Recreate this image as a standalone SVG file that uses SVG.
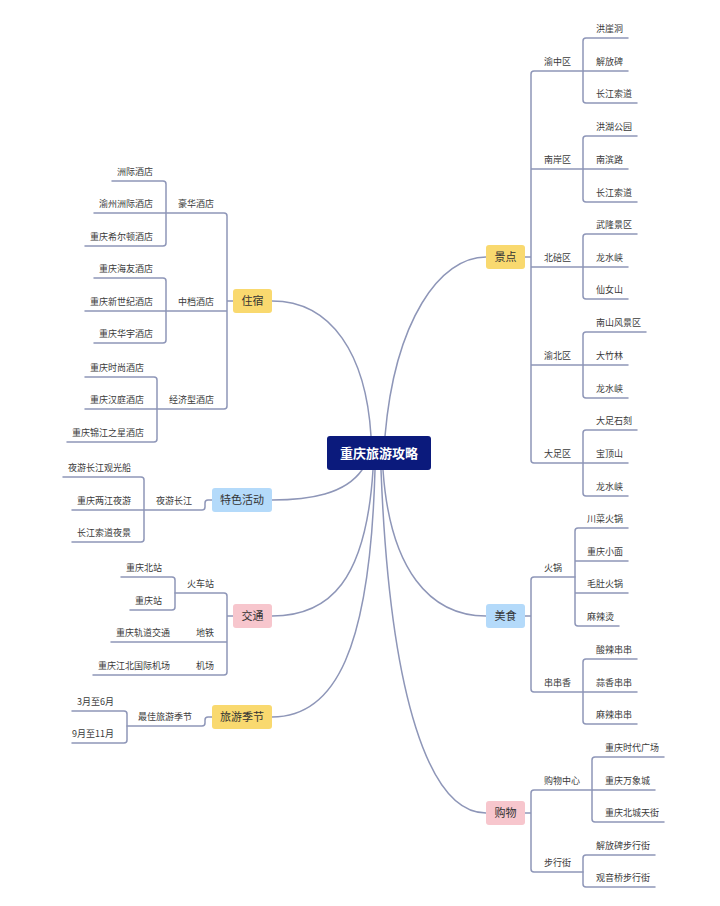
<svg xmlns="http://www.w3.org/2000/svg" width="720" height="906" viewBox="0 0 720 906">
<style>
.c{fill:none;stroke:#8e96b8;stroke-width:1.5;stroke-linecap:round}
text{font-family:"Noto Sans CJK SC","Noto Sans",sans-serif;fill:#3a3a3a}
.t{font-size:9px}
.l{font-size:9px;text-anchor:end}
.n{font-size:11px;text-anchor:middle;fill:#333}
.r{font-size:13px;font-weight:bold;text-anchor:middle;fill:#fff}
.y{fill:#f9d96f}
.b{fill:#b4dafa}
.p{fill:#f7c6cd}
</style>
<rect width="720" height="906" fill="#fff"/>
<g id="connectors">
<path class="c" d="M385,436 C395,320 440,257 486,257"/>
<path class="c" d="M371,436 C366,355 332,301 272,301"/>
<path class="c" d="M362,470 C345,494 310,500 272,500"/>
<path class="c" d="M373,470 C366,580 330,616 272,616"/>
<path class="c" d="M375,470 C370,650 335,717 272,717"/>
<path class="c" d="M383,470 C390,570 430,616 486,616"/>
<path class="c" d="M381,470 C390,700 430,813 486,813"/>
<!-- 景点 -->
<path class="c" d="M525,257 H531 M583,71 H534 Q531,71 531,74 V460 Q531,463 534,463 H583 M531,169 H583 M531,267 H583 M531,365 H583"/>
<path class="c" d="M628,38 H586 Q583,38 583,41 V100 Q583,103 586,103 H637 M583,71 H628"/>
<path class="c" d="M637,136 H586 Q583,136 583,139 V199 Q583,202 586,202 H637 M583,169 H628"/>
<path class="c" d="M637,234 H586 Q583,234 583,237 V296 Q583,299 586,299 H628 M583,267 H628"/>
<path class="c" d="M646,332 H586 Q583,332 583,335 V395 Q583,398 586,398 H628 M583,365 H628"/>
<path class="c" d="M637,430 H586 Q583,430 583,433 V493 Q583,496 586,496 H628 M583,463 H628"/>
<!-- 美食 -->
<path class="c" d="M525,616 H531 M575,577 H534 Q531,577 531,580 V689 Q531,692 534,692 H583"/>
<path class="c" d="M628,528 H578 Q575,528 575,531 V623 Q575,626 578,626 H619 M575,561 H628 M575,593 H628"/>
<path class="c" d="M637,659 H586 Q583,659 583,662 V721 Q583,724 586,724 H637 M583,692 H637"/>
<!-- 购物 -->
<path class="c" d="M525,813 H531 M592,790 H534 Q531,790 531,793 V869 Q531,872 534,872 H583"/>
<path class="c" d="M664,757 H595 Q592,757 592,760 V819 Q592,822 595,822 H664 M592,790 H655"/>
<path class="c" d="M655,855 H586 Q583,855 583,858 V884 Q583,887 586,887 H655"/>
<!-- 住宿 -->
<path class="c" d="M233,301 H227 M166,213 H224 Q227,213 227,216 V406 Q227,409 224,409 H157 M227,311 H166"/>
<path class="c" d="M112,181 H163 Q166,181 166,184 V243 Q166,246 163,246 H85 M166,213 H94"/>
<path class="c" d="M94,278 H163 Q166,278 166,281 V340 Q166,343 163,343 H94 M166,311 H85"/>
<path class="c" d="M85,377 H154 Q157,377 157,380 V439 Q157,442 154,442 H67 M157,409 H85"/>
<!-- 特色活动 -->
<path class="c" d="M212,500 H208 Q205,500 205,503 V507 Q205,510 202,510 H144"/>
<path class="c" d="M63,477 H141 Q144,477 144,480 V539 Q144,542 141,542 H72 M144,510 H72"/>
<!-- 交通 -->
<path class="c" d="M233,616 H227 M175,593 H224 Q227,593 227,596 V672 Q227,675 224,675 H93 M227,642 H111"/>
<path class="c" d="M121,577 H172 Q175,577 175,580 V607 Q175,610 172,610 H130"/>
<!-- 旅游季节 -->
<path class="c" d="M212,717 H208 Q205,717 205,720 V723 Q205,726 202,726 H127"/>
<path class="c" d="M72,711 H124 Q127,711 127,714 V740 Q127,743 124,743 H72"/>
</g>
<g id="root"><rect x="327" y="436" width="104" height="34" rx="3" fill="#0b1a7c"/><text class="r" x="379" y="458">重庆旅游攻略</text></g>
<g id="n-jingdian"><rect class="y" x="486" y="245" width="39" height="24" rx="3"/><text class="n" x="505.5" y="261">景点</text></g>
<g id="n-meishi"><rect class="b" x="486" y="604" width="39" height="24" rx="3"/><text class="n" x="505.5" y="620">美食</text></g>
<g id="n-gouwu"><rect class="p" x="486" y="801" width="39" height="24" rx="3"/><text class="n" x="505.5" y="817">购物</text></g>
<g id="n-zhusu"><rect class="y" x="233" y="289" width="39" height="24" rx="3"/><text class="n" x="252.5" y="305">住宿</text></g>
<g id="n-tese"><rect class="b" x="212" y="488" width="60" height="24" rx="3"/><text class="n" x="242" y="504">特色活动</text></g>
<g id="n-jiaotong"><rect class="p" x="233" y="604" width="39" height="24" rx="3"/><text class="n" x="252.5" y="620">交通</text></g>
<g id="n-jijie"><rect class="y" x="212" y="705" width="60" height="24" rx="3"/><text class="n" x="242" y="721">旅游季节</text></g>
<g id="jingdian-sub">
<text class="t" x="544" y="64.5">渝中区</text>
<text class="t" x="596" y="31.5">洪崖洞</text><text class="t" x="596" y="64.5">解放碑</text><text class="t" x="596" y="96.5">长江索道</text>
<text class="t" x="544" y="162.5">南岸区</text>
<text class="t" x="596" y="129.5">洪湖公园</text><text class="t" x="596" y="162.5">南滨路</text><text class="t" x="596" y="195.5">长江索道</text>
<text class="t" x="544" y="260.5">北碚区</text>
<text class="t" x="596" y="227.5">武隆景区</text><text class="t" x="596" y="260.5">龙水峡</text><text class="t" x="596" y="292.5">仙女山</text>
<text class="t" x="544" y="358.5">渝北区</text>
<text class="t" x="596" y="325.5">南山风景区</text><text class="t" x="596" y="358.5">大竹林</text><text class="t" x="596" y="391.5">龙水峡</text>
<text class="t" x="544" y="456.5">大足区</text>
<text class="t" x="596" y="423.5">大足石刻</text><text class="t" x="596" y="456.5">宝顶山</text><text class="t" x="596" y="489.5">龙水峡</text>
</g>
<g id="meishi-sub">
<text class="t" x="544" y="570.5">火锅</text>
<text class="t" x="587" y="521.5">川菜火锅</text><text class="t" x="587" y="554.5">重庆小面</text><text class="t" x="587" y="586.5">毛肚火锅</text><text class="t" x="587" y="619.5">麻辣烫</text>
<text class="t" x="544" y="685.5">串串香</text>
<text class="t" x="596" y="652.5">酸辣串串</text><text class="t" x="596" y="685.5">蒜香串串</text><text class="t" x="596" y="717.5">麻辣串串</text>
</g>
<g id="gouwu-sub">
<text class="t" x="544" y="783.5">购物中心</text>
<text class="t" x="605" y="750.5">重庆时代广场</text><text class="t" x="605" y="783.5">重庆万象城</text><text class="t" x="605" y="815.5">重庆北城天街</text>
<text class="t" x="544" y="865.5">步行街</text>
<text class="t" x="596" y="848.5">解放碑步行街</text><text class="t" x="596" y="880.5">观音桥步行街</text>
</g>
<g id="zhusu-sub">
<text class="l" x="214" y="206.5">豪华酒店</text>
<text class="l" x="153" y="174.5">洲际酒店</text><text class="l" x="153" y="206.5">渝州洲际酒店</text><text class="l" x="153" y="239.5">重庆希尔顿酒店</text>
<text class="l" x="214" y="304.5">中档酒店</text>
<text class="l" x="153" y="271.5">重庆海友酒店</text><text class="l" x="153" y="304.5">重庆新世纪酒店</text><text class="l" x="153" y="336.5">重庆华宇酒店</text>
<text class="l" x="214" y="402.5">经济型酒店</text>
<text class="l" x="144" y="370.5">重庆时尚酒店</text><text class="l" x="144" y="402.5">重庆汉庭酒店</text><text class="l" x="144" y="435.5">重庆锦江之星酒店</text>
</g>
<g id="tese-sub">
<text class="l" x="192" y="503.5">夜游长江</text>
<text class="l" x="131" y="470.5">夜游长江观光船</text><text class="l" x="131" y="503.5">重庆两江夜游</text><text class="l" x="131" y="535.5">长江索道夜景</text>
</g>
<g id="jiaotong-sub">
<text class="l" x="214" y="586.5">火车站</text>
<text class="l" x="162" y="570.5">重庆北站</text><text class="l" x="162" y="603.5">重庆站</text>
<text class="l" x="214" y="635.5">地铁</text><text class="l" x="170" y="635.5">重庆轨道交通</text>
<text class="l" x="214" y="668.5">机场</text><text class="l" x="170" y="668.5">重庆江北国际机场</text>
</g>
<g id="jijie-sub">
<text class="l" x="192" y="719.5">最佳旅游季节</text>
<text class="l" x="114" y="704.5">3月至6月</text><text class="l" x="114" y="736.5">9月至11月</text>
</g>
</svg>
